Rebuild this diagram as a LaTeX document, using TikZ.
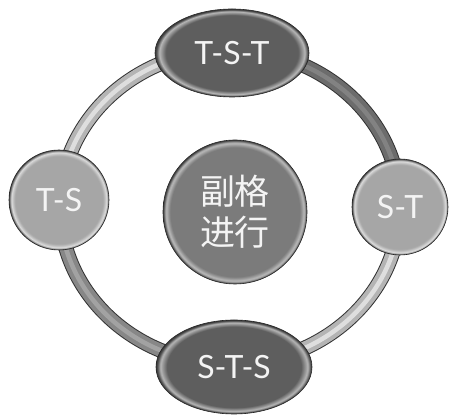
\documentclass[tikz,border=0pt]{standalone}
\usepackage{fontspec}
\setmainfont{Lato}
\newfontfamily\cjk{Noto Sans CJK SC}
\usetikzlibrary{shapes.geometric}
\definecolor{ovalc}{HTML}{5E5E5E}
\definecolor{corec}{HTML}{7B7B7B}
\definecolor{litec}{HTML}{A6A6A6}
\definecolor{txtc}{HTML}{F4F4F4}
\definecolor{ringdark}{HTML}{6C6C6C}
\definecolor{ringdarkhi}{HTML}{828282}
\definecolor{ringmid}{HTML}{878787}
\definecolor{ringmidhi}{HTML}{A2A2A2}
\definecolor{ringlite}{HTML}{B4B4B4}
\definecolor{ringlitehi}{HTML}{DEDEDE}
\definecolor{rimdk}{HTML}{3A3A3A}
\pgfdeclareradialshading{rimoval}{\pgfpoint{0bp}{0bp}}{color(0bp)=(ovalc); color(21.5bp)=(ovalc); color(23.6bp)=(ovalc!45!white); color(24.6bp)=(ovalc!80!black); color(25bp)=(rimdk); color(50bp)=(rimdk)}
\pgfdeclareradialshading{rimcore}{\pgfpoint{0bp}{0bp}}{color(0bp)=(corec); color(22.5bp)=(corec); color(24bp)=(corec!50!white); color(24.7bp)=(corec!80!black); color(25bp)=(rimdk); color(50bp)=(rimdk)}
\pgfdeclareradialshading{rimlite}{\pgfpoint{0bp}{0bp}}{color(0bp)=(litec); color(22bp)=(litec); color(23.8bp)=(litec!40!white); color(24.6bp)=(litec!80!black); color(25bp)=(rimdk); color(50bp)=(rimdk)}
\tikzset{
  ringseg/.style 2 args={line width=13pt, draw=#1,
    preaction={draw=black!80, line width=15pt},
    postaction={draw=#2, line width=4.5pt}},
  basenode/.style={inner sep=0pt, text=txtc, draw=black!85, line width=0.6pt},
  ovalnode/.style={basenode, ellipse, shading=rimoval, font=\fontsize{32}{36}\selectfont},
  corenode/.style={basenode, circle, shading=rimcore, font=\cjk\fontsize{35}{41}\selectfont, align=center},
  litenode/.style={basenode, circle, shading=rimlite, font=\fontsize{32}{36}\selectfont},
}
\begin{document}
\begin{tikzpicture}[x=1pt,y=1pt]
\useasboundingbox (0,0) rectangle (451,417);
\fill[white] (0,0) rectangle (451,417);
\coordinate (ringc) at (230,210);
% ring segments
\draw[ringseg={ringdark}{ringdarkhi}] (ringc) ++(0:170pt and 157pt) arc[start angle=0, end angle=90, x radius=170pt, y radius=157pt];
\draw[ringseg={ringlite}{ringlitehi}] (ringc) ++(90:170pt and 157pt) arc[start angle=90, end angle=180, x radius=170pt, y radius=157pt];
\draw[ringseg={ringmid}{ringmidhi}] (ringc) ++(180:170pt and 157pt) arc[start angle=180, end angle=270, x radius=170pt, y radius=157pt];
\draw[ringseg={ringlite}{ringlitehi}] (ringc) ++(270:170pt and 157pt) arc[start angle=270, end angle=360, x radius=170pt, y radius=157pt];
% nodes
\node[ovalnode, minimum width=154pt, minimum height=88pt] (tst) at (232,364) {T-S-T};
\node[ovalnode, minimum width=156pt, minimum height=94pt] (sts) at (234,50) {S-T-S};
\node[litenode, minimum size=100pt] (ts) at (59,217) {T-S};
\node[litenode, minimum size=96pt] (st) at (400,210) {S-T};
\node[corenode, minimum size=144pt] (core) at (235,205) {副格\\进行};
\end{tikzpicture}
\end{document}
